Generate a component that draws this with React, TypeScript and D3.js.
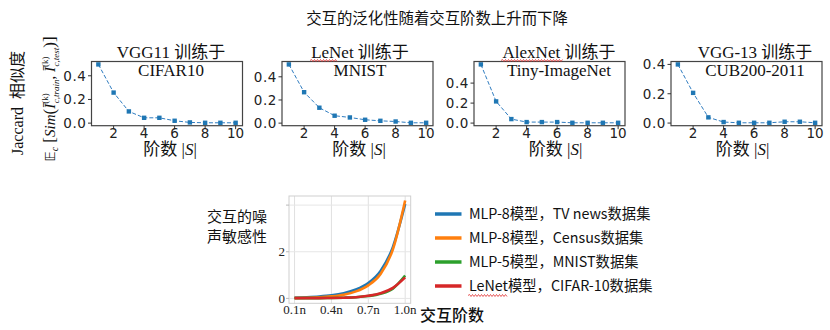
import React from "react";
import * as d3 from "d3";

const orders = [1, 2, 3, 4, 5, 6, 7, 8, 9, 10];
const panelTitles = ["VGG11 训练于", "LeNet 训练于", "AlexNet 训练于", "VGG-13 训练于"];
const panelSubtitles = ["CIFAR10", "MNIST", "Tiny-ImageNet", "CUB200-2011"];
const vgg11Cifar = [0.496, 0.258, 0.099, 0.045, 0.045, 0.02, 0.006, 0.003, 0.003, 0.003];
const lenetMnist = [0.507, 0.267, 0.133, 0.064, 0.049, 0.029, 0.02, 0.014, 0.003, 0.003];
const alexnetTiny = [0.587, 0.217, 0.04, 0.01, 0.01, 0.01, 0.003, 0.003, 0.003, 0.003];
const vgg13Cub = [0.4, 0.206, 0.039, 0.007, 0.002, 0.002, 0.002, 0.009, 0.009, 0.002];
const panelSeries = [vgg11Cifar, lenetMnist, alexnetTiny, vgg13Cub];
const panelYTicks = [0, 0.2, 0.4];
const panelXTicks = [2, 4, 6, 8, 10];

const ratios = [0.1, 0.2, 0.3, 0.4, 0.5, 0.6, 0.7, 0.8, 0.9, 1.0];
const tvNews = [0.03, 0.05, 0.08, 0.13, 0.22, 0.38, 0.66, 1.18, 2.2, 4.05];
const census = [0.02, 0.03, 0.05, 0.09, 0.16, 0.3, 0.56, 1.05, 2.1, 4.2];
const mnist5 = [0.01, 0.01, 0.01, 0.02, 0.03, 0.05, 0.1, 0.2, 0.42, 0.98];
const cifarLenet = [0.01, 0.01, 0.01, 0.02, 0.03, 0.05, 0.11, 0.22, 0.45, 0.9];
const noiseSeries = [tvNews, census, mnist5, cifarLenet];
const legendLabels = ["MLP-8模型，TV news数据集", "MLP-8模型，Census数据集", "MLP-5模型，MNIST数据集", "LeNet模型，CIFAR-10数据集"];
const noiseColors = ["#1f77b4", "#ff7f0e", "#2ca02c", "#d62728"];
const noiseXTicks = [0.1, 0.4, 0.7, 1.0];
const noiseXTickLabels = ["0.1n", "0.4n", "0.7n", "1.0n"];
const noiseYTicks = [0, 2];
const noiseYGrid = [0, 2, 4];

const panelLefts = [91.5, 282, 474, 671];
const titleOffsets = [4, 2.5, 9.5, 8.5];
const xlabelOffsets = [3, 1.5, 6, -4];
const PW = 151;
const PTOP = 61.5;
const PBOT = 125.7;

const SERIF = "'Liberation Serif', 'Times New Roman', 'Noto Sans CJK SC', serif";
const SANS = "'Noto Sans CJK SC', 'Noto Sans', sans-serif";
const TICKF = "'DejaVu Sans', sans-serif";

function wavy(x1: number, x2: number, y: number) {
  const p = d3.path();
  p.moveTo(x1, y);
  let up = true;
  for (let x = x1 + 1.5; x <= x2; x += 1.5) {
    p.lineTo(x, y + (up ? -1 : 1));
    up = !up;
  }
  return p.toString();
}

function Panel({ idx }: { idx: number }) {
  const data = panelSeries[idx];
  const left = panelLefts[idx];
  const x = d3.scaleLinear().domain([0.55, 10.45]).range([left, left + PW]);
  const [mn, mx] = d3.extent(data) as [number, number];
  const pad = (mx - mn) * 0.05;
  const y = d3.scaleLinear().domain([mn - pad, mx + pad]).range([PBOT, PTOP]);
  const line = d3.line<number>().x((_, i) => x(orders[i])).y((d) => y(d));
  const cx = left + PW / 2;
  return (
    <g>
      <path d={line(data) || ""} fill="none" stroke="#2f7cc0" strokeWidth={1} strokeDasharray="4,2" />
      {data.map((d, i) => (
        <rect key={i} x={x(orders[i]) - 2.2} y={y(d) - 2.2} width={4.4} height={4.4} fill="#1f77b4" />
      ))}
      <rect x={left} y={PTOP} width={PW} height={PBOT - PTOP} fill="none" stroke="#444" strokeWidth={1.2} />
      {panelYTicks.map((t) => (
        <g key={t}>
          <line x1={left - 3.5} x2={left} y1={y(t)} y2={y(t)} stroke="#333" />
          <text x={left - 5} y={y(t)} dy="0.36em" textAnchor="end" fontFamily={TICKF} fontSize={13.5} fill="#222" letterSpacing={0.6}>
            {t.toFixed(1)}
          </text>
        </g>
      ))}
      {panelXTicks.map((t) => (
        <g key={t}>
          <line x1={x(t)} x2={x(t)} y1={PBOT} y2={PBOT + 3.5} stroke="#333" />
          <text x={x(t)} y={138} textAnchor="middle" fontFamily={TICKF} fontSize={13.5} fill="#222">
            {t}
          </text>
        </g>
      ))}
      <text x={cx + titleOffsets[idx]} y={58} textAnchor="middle" fontFamily={SERIF} fontSize={17} fill="#111">
        {panelTitles[idx]}
      </text>
      <text x={cx + titleOffsets[idx]} y={75.7} textAnchor="middle" fontFamily={SERIF} fontSize={17} fill="#111">
        {panelSubtitles[idx]}
      </text>
      <text x={cx + xlabelOffsets[idx]} y={155} textAnchor="middle" fontFamily={SERIF} fontSize={17} fill="#111">
        阶数 |<tspan fontStyle="italic">S</tspan>|
      </text>
    </g>
  );
}

function NoiseChart() {
  const L = 289, R = 410.7, T = 196, B = 303.3;
  const x = d3.scaleLinear().domain([0.055, 1.045]).range([L, R]);
  const y = d3.scaleLinear().domain([-0.21, 4.39]).range([B, T]);
  const line = d3.line<number>().x((_, i) => x(ratios[i])).y((d) => y(d)).curve(d3.curveMonotoneX);
  return (
    <g>
      {noiseXTicks.map((t) => (
        <line key={"gx" + t} x1={x(t)} x2={x(t)} y1={T} y2={B} stroke="#e0e0e0" strokeWidth={1} />
      ))}
      {noiseYGrid.map((t) => (
        <line key={"gy" + t} x1={L} x2={R} y1={y(t)} y2={y(t)} stroke="#e6e6e6" strokeWidth={1} />
      ))}
      <rect x={L} y={T} width={R - L} height={B - T} fill="none" stroke="#cfcfcf" strokeWidth={1} />
      {noiseYGrid.map((t) => (
        <line key={"ty" + t} x1={L - 3} x2={L} y1={y(t)} y2={y(t)} stroke="#bbb" />
      ))}
      {noiseSeries.map((s, i) => (
        <path key={i} d={line(s) || ""} fill="none" stroke={noiseColors[i]} strokeWidth={2.6} />
      ))}
      {noiseXTicks.map((t, i) => (
        <text key={"tx" + t} x={x(t)} y={313.5} textAnchor="middle" fontFamily={SERIF} fontSize={13} fill="#222">
          {noiseXTickLabels[i]}
        </text>
      ))}
      {noiseYTicks.map((t) => (
        <text key={"tyl" + t} x={L - 4} y={y(t)} dy="0.35em" textAnchor="end" fontFamily={SERIF} fontSize={13} fill="#222">
          {t}
        </text>
      ))}
      <text x={237} y={222} textAnchor="middle" fontFamily={SANS} fontSize={15} fill="#111">交互的噪</text>
      <text x={237} y={242} textAnchor="middle" fontFamily={SANS} fontSize={15} fill="#111">声敏感性</text>
      <text x={420} y={321} fontFamily={SANS} fontSize={16} fontWeight={500} fill="#111">交互阶数</text>
      {legendLabels.map((lab, i) => {
        const ly = 214 + i * 24;
        return (
          <g key={lab}>
            <line x1={435} x2={461.5} y1={ly} y2={ly} stroke={noiseColors[i]} strokeWidth={3.5} />
            <text x={469} y={ly} dy="0.36em" fontFamily={SANS} fontSize={14.3} fill="#111">
              {lab}
            </text>
          </g>
        );
      })}
      <path d={wavy(468, 507, 295.5)} fill="none" stroke="#e03030" strokeWidth={0.8} />
    </g>
  );
}

export default function App() {
  return (
    <svg width={830} height={330} style={{ display: "block", position: "absolute", left: 0, top: 0, background: "#fff" }}>
      <rect width={830} height={330} fill="#fff" />
      <text x={437} y={24} textAnchor="middle" fontFamily={SANS} fontSize={15.4} fill="#111">
        交互的泛化性随着交互阶数上升而下降
      </text>
      <text transform="translate(23,103) rotate(-90)" textAnchor="middle" fontFamily={SERIF} fontSize={16} fill="#111" style={{ whiteSpace: "pre" }}>
        {"Jaccard  相似度"}
      </text>
      <text transform="translate(55,99) rotate(-90)" textAnchor="middle" fontFamily={SERIF} fontSize={15} fill="#111" style={{ whiteSpace: "pre" }}>
        <tspan fontFamily="'DejaVu Sans', sans-serif" fontSize={14}>𝔼</tspan>
        <tspan fontSize={10} dy={3} fontStyle="italic">c</tspan>
        <tspan dy={-3} fontSize={17}>{" ["}</tspan>
        <tspan fontStyle="italic">Sim</tspan>
        <tspan fontSize={17}>(</tspan>
        <tspan fontStyle="italic">Ī</tspan>
        <tspan fontSize={9} dy={-7}>(k)</tspan>
        <tspan fontSize={9} dx={-10} dy={11} fontStyle="italic">c,train</tspan>
        <tspan dy={-4}>{", "}</tspan>
        <tspan fontStyle="italic">Ī</tspan>
        <tspan fontSize={9} dy={-7}>(k)</tspan>
        <tspan fontSize={9} dx={-10} dy={11} fontStyle="italic">c,test</tspan>
        <tspan dy={-4} fontSize={17}>)]</tspan>
      </text>
      {panelSeries.map((_, i) => (
        <Panel key={i} idx={i} />
      ))}
      <path d={wavy(310, 337, 60.5)} fill="none" stroke="#e03030" strokeWidth={0.8} />
      <path d={wavy(501, 563, 60.5)} fill="none" stroke="#e03030" strokeWidth={0.8} />
      <NoiseChart />
    </svg>
  );
}
